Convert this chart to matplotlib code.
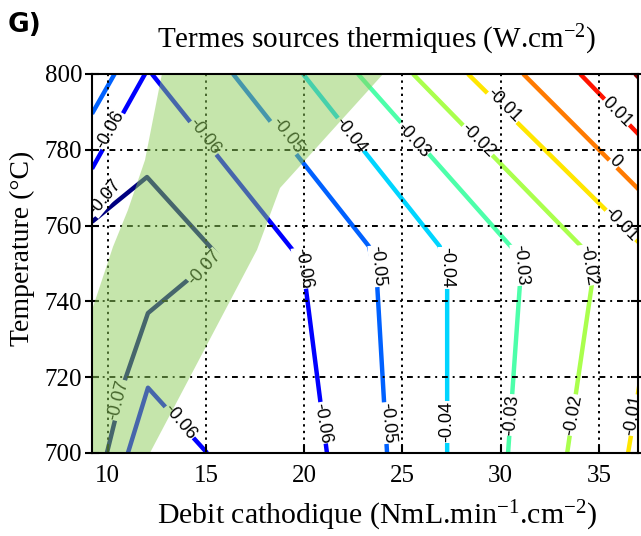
import matplotlib
matplotlib.use('Agg')
import matplotlib.pyplot as plt
import numpy as np

plt.rcParams['font.family'] = ['Liberation Serif', 'DejaVu Serif']
plt.rcParams['mathtext.fontset'] = 'custom'
plt.rcParams['mathtext.rm'] = 'Liberation Serif'
plt.rcParams['mathtext.it'] = 'Liberation Serif:italic'

# contour segments (debit, temperature)
m07_x = [9.2, 12.0, 15.6, 12.05, 10.88, 9.96]
m07_y = [761.0, 772.8, 752.2, 736.9, 719.3, 700.0]
m06a_x = [9.2, 11.9]
m06a_y = [775.0, 800.0]
m06b_x = [12.25, 19.5, 20.05, 21.16]
m06b_y = [800.0, 753.0, 745.0, 700.0]
m06c_x = [11.03, 12.05, 15.06]
m06c_y = [700.0, 717.2, 700.0]
m05a_x = [9.2, 10.35]
m05a_y = [789.5, 800.0]
m05b_x = [16.38, 23.3, 23.71, 24.22]
m05b_y = [800.0, 754.5, 745.0, 700.0]
m04_x = [19.94, 26.9, 27.28, 27.28]
m04_y = [800.0, 754.5, 745.0, 700.0]
m03_x = [22.74, 30.6, 30.99, 30.38]
m03_y = [800.0, 754.0, 745.0, 700.0]
m02_x = [25.54, 34.2, 34.66, 33.39]
m02_y = [800.0, 754.0, 745.0, 700.0]
m01a_x = [28.34, 37.1]
m01a_y = [800.0, 755.2]
m01b_x = [36.49, 37.15]
m01b_y = [700.0, 720.6]
z0_x = [31.15, 37.15]
z0_y = [800.0, 768.9]
p01_x = [34.05, 37.15]
p01_y = [800.0, 783.4]
p02_x = [36.85, 37.15]
p02_y = [800.0, 798.4]

seg_level = [-0.07, -0.06, -0.06, -0.06, -0.05, -0.05, -0.04, -0.03, -0.02,
             -0.01, -0.01, 0.0, 0.01, 0.02]
seg_x = [m07_x, m06a_x, m06b_x, m06c_x, m05a_x, m05b_x, m04_x, m03_x, m02_x,
         m01a_x, m01b_x, z0_x, p01_x, p02_x]
seg_y = [m07_y, m06a_y, m06b_y, m06c_y, m05a_y, m05b_y, m04_y, m03_y, m02_y,
         m01a_y, m01b_y, z0_y, p01_y, p02_y]

# contour labels
lab_text = ['-0.06', '-0.07', '-0.06', '-0.07', '-0.07', '-0.06', '-0.06', '-0.06',
            '-0.05', '-0.05', '-0.05', '-0.04', '-0.04', '-0.04',
            '-0.03', '-0.03', '-0.03', '-0.02', '-0.02', '-0.02',
            '-0.01', '-0.01', '-0.01', '0', '0.01']
lab_x = [10.12, 9.86, 14.95, 14.95, 10.52, 13.68, 19.94, 20.91,
         19.13, 23.76, 24.22, 22.34, 27.28, 27.28,
         25.54, 30.99, 30.58, 28.85, 34.45, 33.69,
         30.18, 36.13, 36.75, 35.83, 35.93]
lab_y = [785.2, 767.5, 783.4, 748.8, 714.0, 708.2, 748.8, 707.9,
         783.9, 749.3, 707.9, 783.9, 748.8, 708.2,
         782.6, 749.6, 710.0, 782.6, 749.6, 710.0,
         791.6, 760.2, 710.0, 776.8, 790.0]
lab_rot = [61, 50, -52, 48, 75, -50, -80, -80,
           -52, -85, -85, -52, -90, 90,
           -48, -85, 85, -45, -80, 80,
           -45, -45, 80, -45, -45]

# shaded operating zone
zone_x = [12.76, 24.02, 18.77, 17.6, 12.15, 9.2, 9.2, 10.27, 11.03, 11.9]
zone_y = [800.0, 800.0, 769.9, 753.6, 700.0, 700.0, 737.7, 754.4, 764.1, 777.3]

fig = plt.figure(figsize=(6.41, 5.36), dpi=100)
ax = fig.add_axes([0.1435, 0.155, 0.852, 0.707])

norm = plt.Normalize(-0.07, 0.02)
for lev, xs, ys in zip(seg_level, seg_x, seg_y):
    ax.plot(xs, ys, color=plt.cm.jet(norm(lev)), lw=3.2, zorder=2,
            solid_capstyle='butt')

for t, x, y, r in zip(lab_text, lab_x, lab_y, lab_rot):
    ax.text(x, y, t, rotation=r, rotation_mode='anchor', ha='center', va='center',
            fontsize=13, family=['Liberation Sans', 'DejaVu Sans'], zorder=3,
            bbox=dict(facecolor='white', edgecolor='none', pad=0.3), clip_on=True)

ax.fill(zone_x, zone_y, color=(0.55, 0.80, 0.35), alpha=0.5, lw=0, zorder=4)

ax.set_xlim(9.2, 37.0)
ax.set_ylim(700, 800)
ax.set_xticks([10, 15, 20, 25, 30, 35])
ax.set_yticks([700, 720, 740, 760, 780, 800])
ax.grid(axis='x', color='k', lw=1.4, linestyle=(0, (1.2, 2.2)))
ax.grid(axis='y', color='k', lw=1.4, linestyle=(0, (3, 2.5, 1, 2.5)))
ax.xaxis.set_zorder(3.5)
ax.yaxis.set_zorder(3.5)
ax.tick_params(axis='x', direction='in', length=6, width=1.5, labelsize=18, pad=9)
ax.tick_params(axis='y', direction='inout', length=10, width=1.5, labelsize=18,
               right=True, pad=2)
for sp in ax.spines.values():
    sp.set_linewidth(1.5)
    sp.set_zorder(5)

fig.text(377 / 641, 1 - 40 / 536, 'Termes sources thermiques (W.cm$^{-2}$)',
         ha='center', va='center', fontsize=21)
fig.text(377 / 641, 1 - 516 / 536, 'Debit cathodique (NmL.min$^{-1}$.cm$^{-2}$)',
         ha='center', va='center', fontsize=21.5)
fig.text(22 / 641, 1 - 248 / 536, 'Temperature (°C)', rotation=90,
         ha='center', va='center', fontsize=20)
fig.text(8 / 641, 1 - 25 / 536, 'G)', ha='left', va='center', fontsize=19,
         weight='bold', family=['Liberation Sans Narrow', 'DejaVu Sans'])

fig.savefig('out.png', dpi=100)
